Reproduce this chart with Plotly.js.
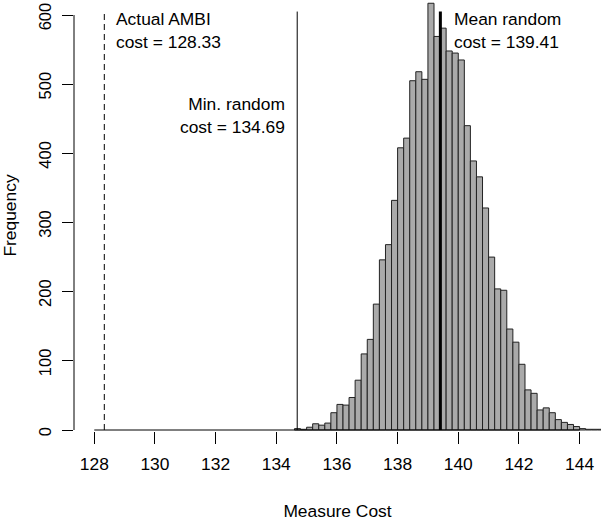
<!DOCTYPE html>
<html>
<head>
<meta charset="utf-8">
<script src="https://cdn.plot.ly/plotly-3.0.1.min.js"></script>
<style>html,body{margin:0;padding:0;background:#fff;}</style>
</head>
<body>
<div id="chart" style="width:601px;height:522px;"></div>
<script>
// Histogram bins (left edges, bin width 0.2) and counts
var binLeft = [134.6,134.8,135.0,135.2,135.4,135.6,135.8,136.0,136.2,136.4,136.6,136.8,137.0,137.2,137.4,137.6,137.8,138.0,138.2,138.4,138.6,138.8,139.0,139.2,139.4,139.6,139.8,140.0,140.2,140.4,140.6,140.8,141.0,141.2,141.4,141.6,141.8,142.0,142.2,142.4,142.6,142.8,143.0,143.2,143.4,143.6,143.8,144.0,144.2,144.4,144.6];
var counts  = [2,1,4,9,7,10,25,37,36,47,72,110,131,182,246,268,332,408,422,505,518,507,617,569,581,548,545,535,440,389,366,321,250,204,202,146,127,95,58,53,29,32,25,15,11,8,5,2,1,1,1];
var binWidth = 0.2;

// Reference values
var actualCost = 128.33;
var minRandomCost = 134.69;
var meanRandomCost = 139.41;

// Axis ticks
var xTicks = [128,130,132,134,136,138,140,142,144];
var yTicks = [0,100,200,300,400,500,600];

var FONT = 'Liberation Sans, Arial, Helvetica, sans-serif';
var FS = 17.4;

var trace = {
  type: 'bar',
  x: binLeft,
  y: counts,
  width: binLeft.map(function(){return binWidth;}),
  offset: 0,
  marker: {color: '#aaaaaa', line: {color: '#222222', width: 1}},
  hoverinfo: 'x+y'
};

var lineTop = 605;
var shapes = [
  // y axis line (0..600)
  {type:'line', xref:'paper', yref:'y', x0:0, x1:0, y0:yTicks[0], y1:yTicks[yTicks.length-1], line:{color:'#000', width:1}},
  // x axis line (128..144)
  {type:'line', xref:'x', yref:'y', x0:xTicks[0], x1:xTicks[xTicks.length-1], y0:0, y1:0, line:{color:'#000', width:1}},
  // actual AMBI cost (dashed)
  {type:'line', xref:'x', yref:'y', x0:actualCost, x1:actualCost, y0:0, y1:lineTop, line:{color:'#000', width:1, dash:'6px,4px'}},
  // min random cost
  {type:'line', xref:'x', yref:'y', x0:minRandomCost, x1:minRandomCost, y0:0, y1:lineTop, line:{color:'#000', width:1}},
  // mean random cost (thick)
  {type:'line', xref:'x', yref:'y', x0:meanRandomCost, x1:meanRandomCost, y0:0, y1:lineTop, line:{color:'#000', width:3}}
];

var annFont = {family: FONT, size: FS, color: '#000'};
var annotations = [
  {xref:'x', yref:'y', x:128.66, y:577, xanchor:'left', yanchor:'middle', align:'left', showarrow:false,
   text:'Actual AMBI<br>cost = ' + actualCost.toFixed(2), font:annFont},
  {xref:'x', yref:'y', x:134.36, y:455, xanchor:'right', yanchor:'middle', align:'right', showarrow:false,
   text:'Min. random<br>cost = ' + minRandomCost.toFixed(2), font:annFont},
  {xref:'x', yref:'y', x:139.79, y:577, xanchor:'left', yanchor:'middle', align:'left', showarrow:false,
   text:'Mean random<br>cost = ' + meanRandomCost.toFixed(2), font:annFont}
];

var layout = {
  width: 601, height: 522,
  margin: {l:74, r:0, t:0, b:91, pad:0},
  paper_bgcolor: '#fff', plot_bgcolor: '#fff',
  showlegend: false,
  font: {family: FONT, size: FS, color: '#000'},
  xaxis: {
    range: [127.331, 144.706],
    tickmode: 'array', tickvals: xTicks, ticktext: xTicks.map(String),
    ticks: 'outside', ticklen: 12, tickwidth: 1, tickcolor: '#000',
    ticklabelstandoff: 5,
    ticklabeloverflow: 'allow',
    showgrid: false, zeroline: false, showline: false,
    tickfont: {family: FONT, size: FS, color: '#000'},
    title: {text: 'Measure Cost', font: {family: FONT, size: FS, color: '#000'}, standoff: 31},
    fixedrange: true
  },
  yaxis: {
    range: [-1.45, 621.7],
    tickmode: 'array', tickvals: yTicks, ticktext: yTicks.map(String),
    ticks: 'outside', ticklen: 11, tickwidth: 1, tickcolor: '#000',
    tickangle: -90,
    ticklabelshift: 4,
    ticklabelstandoff: 4,
    ticklabeloverflow: 'allow',
    showgrid: false, zeroline: false, showline: false,
    tickfont: {family: FONT, size: 16.5, color: '#000'},
    title: {text: 'Frequency', font: {family: FONT, size: FS, color: '#000'}, standoff: 18},
    fixedrange: true
  },
  shapes: shapes,
  annotations: annotations,
  bargap: 0
};

Plotly.newPlot('chart', [trace], layout, {displayModeBar: false, staticPlot: true});
</script>
</body>
</html>
